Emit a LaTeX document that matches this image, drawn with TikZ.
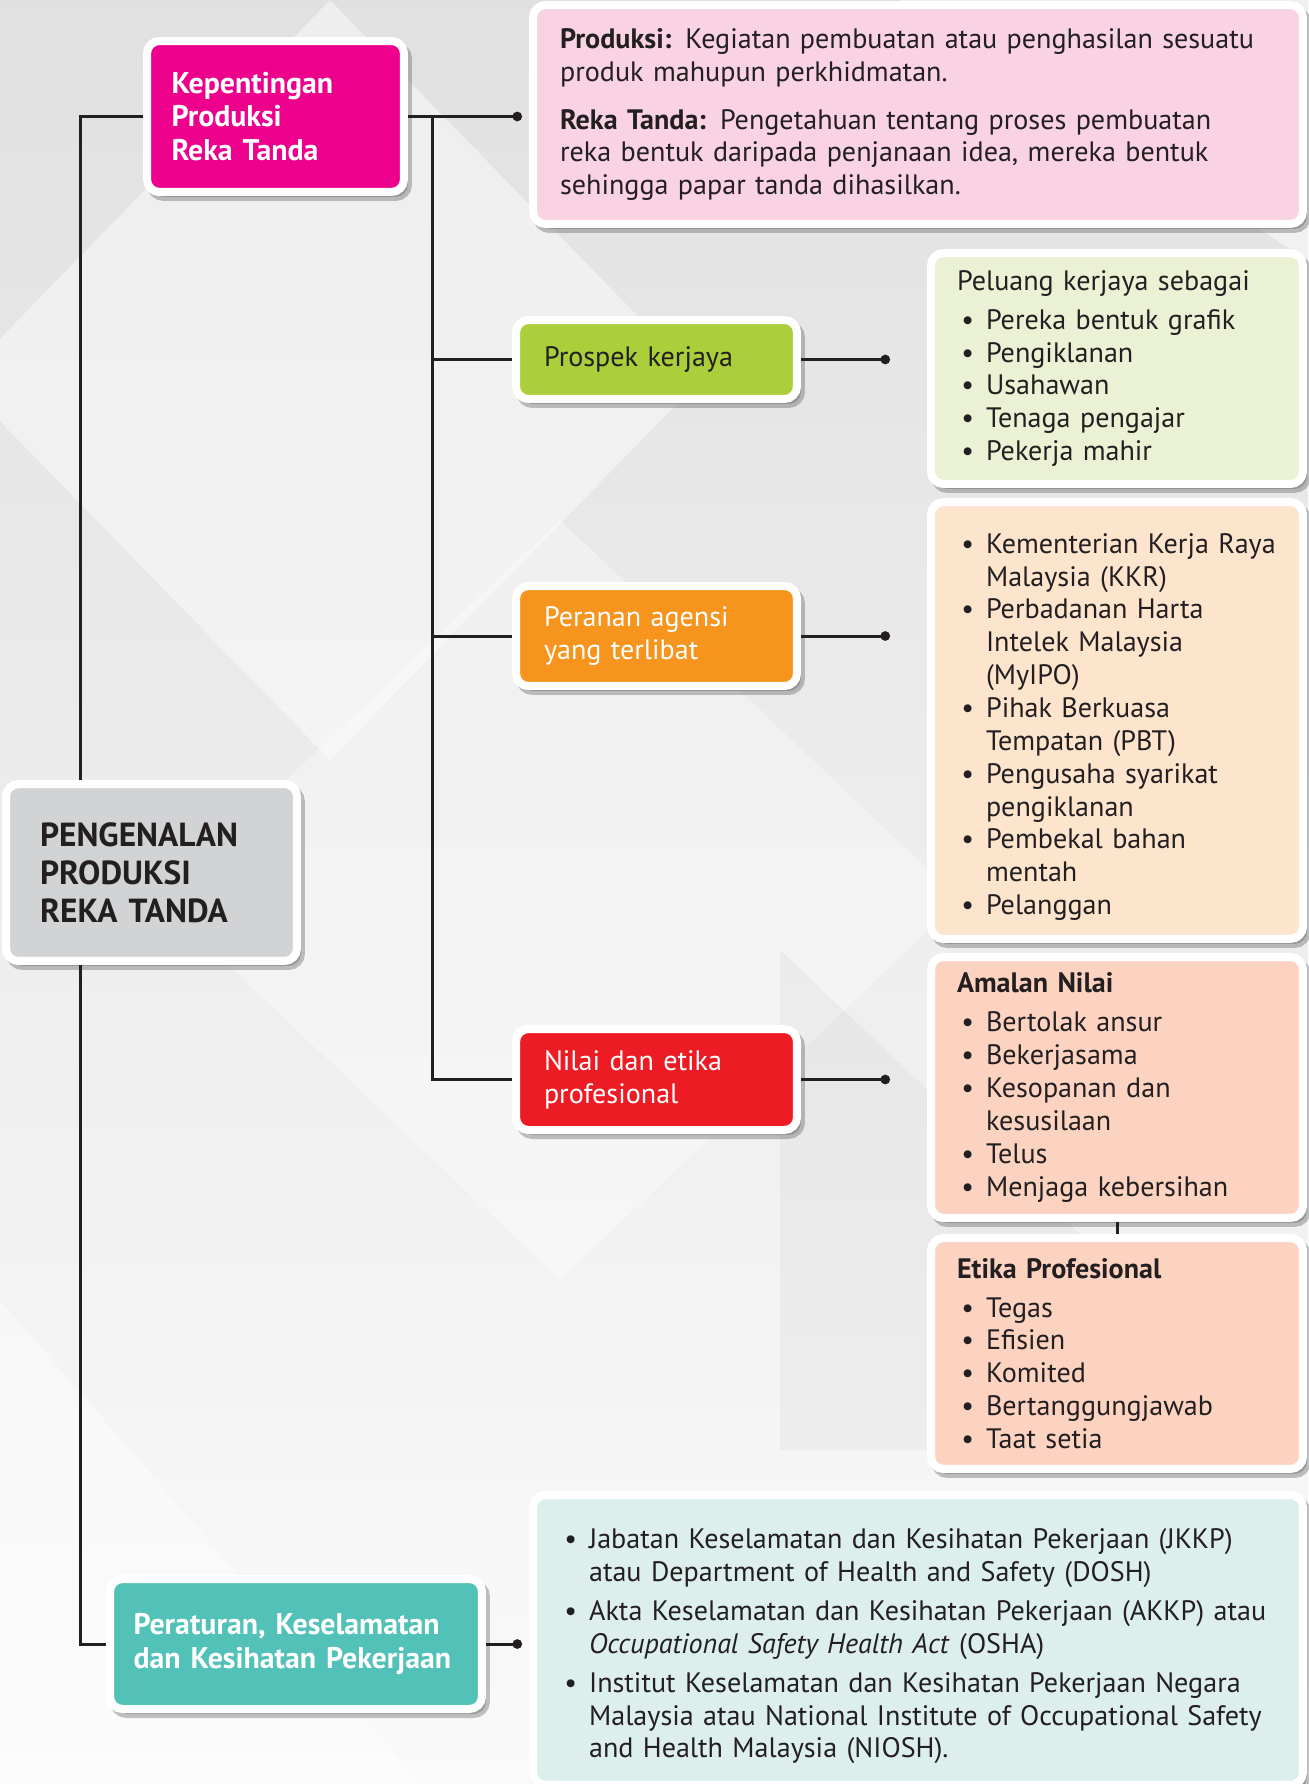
\documentclass[tikz,border=0pt]{standalone}
\usepackage{fontspec}
\setmainfont{PT Sans}
\usepackage{enumitem}
\setlist[itemize]{nosep,leftmargin=0.58cm,labelsep=0.24cm,label=\textbullet}
\definecolor{rtmagenta}{HTML}{EC008C}
\definecolor{rtlime}{HTML}{AACF3A}
\definecolor{rtorange}{HTML}{F7941D}
\definecolor{rtred}{HTML}{ED1C24}
\definecolor{rtteal}{HTML}{52C1B7}
\definecolor{rtgrey}{HTML}{D1D3D4}
\definecolor{rtpink}{HTML}{F9D3E3}
\definecolor{rtmint}{HTML}{EAF1D5}
\definecolor{rtpeach}{HTML}{FDE4CD}
\definecolor{rtsalmon}{HTML}{FBD3C0}
\definecolor{rtaqua}{HTML}{DCEFEC}
\definecolor{rtink}{HTML}{231F20}
\usetikzlibrary{arrows.meta,calc,shadows}

\begin{document}
\begin{tikzpicture}[x=0.02cm,y=-0.02cm,
    every node/.style={font=\fontsize{16}{18.7}\selectfont,text=rtink},
    card/.style={rounded corners=0.25cm,draw=white,line width=0.16cm,align=left,
      drop shadow={shadow xshift=0.08cm,shadow yshift=-0.1cm,fill=black!60,
        draw=black!60,line width=0.16cm,opacity=0.4}},
    title/.style={card,text=white,font=\fontsize{17}{19}\selectfont\bfseries},
    tag/.style={card,text width=4.5cm,inner xsep=0.56cm,minimum height=#1},
    info/.style={card,text width=6.4cm,inner xsep=0.52cm,minimum height=#1},
    wide/.style={card,text width=14.32cm,inner xsep=0.54cm,minimum height=#1},
    link/.style={line width=0.06cm,rtink},
    tolist/.style={link,-{Circle[length=0.19cm]}}]
  \useasboundingbox (0,0) rectangle (1308,1784);

  %% background facets
  \fill[top color=black!12,bottom color=black!2] (0,0) rectangle (1308,1784);
  \fill[white,opacity=0.45] (330,0) -- (700,380) -- (330,760) -- (-40,380) -- cycle;
  \fill[white,opacity=0.35] (560,520) -- (960,900) -- (560,1280) -- (160,900) -- cycle;
  \fill[white,opacity=0.5] (900,0) -- (1308,0) -- (1308,260) -- cycle;
  \fill[black,opacity=0.03] (780,950) -- (1308,1450) -- (780,1450) -- cycle;
  \fill[white,opacity=0.4] (0,1300) -- (420,1784) -- (0,1784) -- cycle;

  %% main topics
  \node[title,fill=rtgrey,text=rtink,font=\fontsize{19}{21.5}\selectfont\bfseries,
        text width=4.46cm,inner xsep=0.68cm,minimum height=3.54cm]
        (root) at (151.5,872.5) {PENGENALAN\\PRODUKSI\\REKA TANDA};
  \node[title,fill=rtmagenta,text width=4.16cm,inner xsep=0.49cm,minimum height=3.02cm]
        (kep) at (275.5,116.5) {Kepentingan\\Produksi\\Reka Tanda};
  \node[title,fill=rtteal,text width=6.5cm,inner xsep=0.47cm,minimum height=2.6cm]
        (pera) at (296,1644) {Peraturan, Keselamatan\\dan Kesihatan Pekerjaan};

  %% sub topics
  \node[tag=1.58cm,fill=rtlime] (pros) at (656.5,359.5) {Prospek kerjaya};
  \node[tag=2cm,fill=rtorange,text=white] (per) at (656.5,636) {Peranan agensi\\yang terlibat};
  \node[tag=2.02cm,fill=rtred,text=white] (nil) at (656.5,1079.5) {Nilai dan etika\\profesional};

  %% notes
  \node[wide=4.38cm,fill=rtpink] (def) at (918,114.5)
       {\textbf{Produksi:} Kegiatan pembuatan atau penghasilan sesuatu\\
        produk mahupun perkhidmatan.\\[0.3cm]
        \textbf{Reka Tanda:} Pengetahuan tentang proses pembuatan\\
        reka bentuk daripada penjanaan idea, mereka bentuk\\
        sehingga papar tanda dihasilkan.};
  \node[info=4.62cm,fill=rtmint] (job) at (1117,368.5)
       {Peluang kerjaya sebagai\par\vspace{0.12cm}
        \begin{itemize}
          \item Pereka bentuk grafik
          \item Pengiklanan
          \item Usahawan
          \item Tenaga pengajar
          \item Pekerja mahir
        \end{itemize}};
  \node[info=8.74cm,fill=rtpeach] (agn) at (1117,720.5)
       {\begin{itemize}
          \item Kementerian Kerja Raya\\Malaysia (KKR)
          \item Perbadanan Harta\\Intelek Malaysia\\(MyIPO)
          \item Pihak Berkuasa\\Tempatan (PBT)
          \item Pengusaha syarikat\\pengiklanan
          \item Pembekal bahan\\mentah
          \item Pelanggan
        \end{itemize}};
  \node[info=5.22cm,fill=rtsalmon] (amal) at (1117,1087.5)
       {\textbf{Amalan Nilai}\par\vspace{0.12cm}
        \begin{itemize}
          \item Bertolak ansur
          \item Bekerjasama
          \item Kesopanan dan\\kesusilaan
          \item Telus
          \item Menjaga kebersihan
        \end{itemize}};
  \node[info=4.62cm,fill=rtsalmon] (etik) at (1117,1353.5)
       {\textbf{Etika Profesional}\par\vspace{0.12cm}
        \begin{itemize}
          \item Tegas
          \item Efisien
          \item Komited
          \item Bertanggungjawab
          \item Taat setia
        \end{itemize}};
  \node[wide=5.8cm,fill=rtaqua] (law) at (918,1640)
       {\begin{itemize}[itemsep=0.12cm]
          \item Jabatan Keselamatan dan Kesihatan Pekerjaan (JKKP)\\
                atau Department of Health and Safety (DOSH)
          \item Akta Keselamatan dan Kesihatan Pekerjaan (AKKP) atau\\
                \textit{Occupational Safety Health Act} (OSHA)
          \item Institut Keselamatan dan Kesihatan Pekerjaan Negara\\
                Malaysia atau National Institute of Occupational Safety\\
                and Health Malaysia (NIOSH).
        \end{itemize}};

  %% connectors
  \coordinate (trunk) at (80,0);
  \coordinate (branch) at (432,0);
  \coordinate (dotcol1) at (522,0);
  \coordinate (dotcol2) at (890,0);
  \draw[link] (trunk |- root.north) |- (kep.west);
  \draw[link] (trunk |- root.south) |- (pera.west);
  \draw[link] (branch |- kep.east) |- (nil.west);
  \draw[link] (branch |- pros.west) -- (pros.west);
  \draw[link] (branch |- per.west) -- (per.west);
  \draw[tolist] (kep.east) -- (kep.east -| dotcol1);
  \draw[tolist] (pera.east) -- (pera.east -| dotcol1);
  \draw[tolist] (pros.east) -- (pros.east -| dotcol2);
  \draw[tolist] (per.east) -- (per.east -| dotcol2);
  \draw[tolist] (nil.east) -- (nil.east -| dotcol2);
  \draw[link] (amal.south) -- (etik.north);
\end{tikzpicture}
\end{document}
